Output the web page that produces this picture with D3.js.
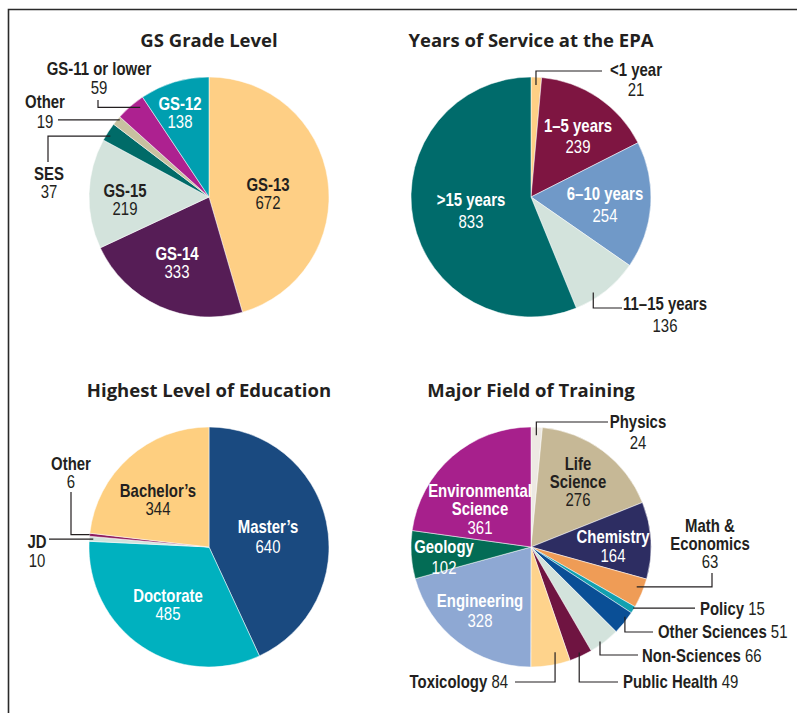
<!DOCTYPE html>
<html>
<head>
<meta charset="utf-8">
<title>EPA workforce profile</title>
<script src="https://cdn.jsdelivr.net/npm/d3@7"></script>
<style>
  body { margin: 0; background: #fff; }
  .title { font-family: "Open Sans", sans-serif; font-weight: bold; font-size: 18.5px; fill: #231f20; }
  .lbl { font-family: "Liberation Sans", Arial, sans-serif; font-size: 18px; }
  .leader { fill: none; stroke: #231f20; stroke-width: 1.2; }
</style>
</head>
<body>
<script>
// GS grade level
var gradeCats = ["GS-13", "GS-14", "GS-15", "SES", "Other", "GS-11 or lower", "GS-12"];
var gradeVals = [672, 333, 219, 37, 19, 59, 138];
var gradeColors = ["#fecf85", "#561d56", "#d3e3dc", "#006b68", "#c8c1a0", "#ad2190", "#009fb0"];

// years of service
var yearsCats = ["<1 year", "1–5 years", "6–10 years", "11–15 years", ">15 years"];
var yearsVals = [21, 239, 254, 136, 833];
var yearsColors = ["#fecf85", "#7e1541", "#7099c8", "#d3e3dc", "#006b6b"];

// highest education
var eduCats = ["Master’s", "Doctorate", "JD", "Other", "Bachelor’s"];
var eduVals = [640, 485, 10, 6, 344];
var eduColors = ["#1a4a80", "#00b1bf", "#d3e3dc", "#8e1b5e", "#fecf80"];

// major field of training
var fieldCats = ["Physics", "Life Science", "Chemistry", "Math & Economics", "Policy", "Other Sciences",
                 "Non-Sciences", "Public Health", "Toxicology", "Engineering", "Geology", "Environmental Science"];
var fieldVals = [24, 276, 164, 63, 15, 51, 66, 49, 84, 328, 102, 361];
var fieldColors = ["#ede9e3", "#c6b896", "#2d2d62", "#ef9c56", "#12a0b0", "#0a4f96",
                   "#d3e3dc", "#6f1441", "#fed38c", "#8ea8d3", "#036c55", "#a7208c"];

// label placement, relative to each pie centre
var gradeLayout = {
  "GS-13": {dx: 59, dy: -6, lh: 18},
  "GS-14": {dx: -32, dy: 63, lh: 18},
  "GS-15": {dx: -84, dy: 0, lh: 18},
  "GS-12": {dx: -29, dy: -87, lh: 18},
  "GS-11 or lower": {out: true, dx: -110, dy: -122, lh: 19, leader: {frac: 0.73, r: 113, type: "hv", ex: -111, ey: -97}},
  "Other": {out: true, dx: -164, dy: -89, lh: 20, leader: {frac: 0.76, r: 118, type: "h", ex: -151}},
  "SES": {out: true, dx: -160, dy: -17, lh: 18, leader: {frac: 0.37, r: 116, type: "hv", ex: -161, ey: -35}}
};
var yearsLayout = {
  "1–5 years": {dx: 47, dy: -65, lh: 21},
  "6–10 years": {dx: 74, dy: 3, lh: 22},
  ">15 years": {dx: -60, dy: 9, lh: 22},
  "<1 year": {out: true, dx: 105, dy: -121, lh: 20, leader: {frac: 0.5, r: 112, type: "vh", ex: 71, ey: -126}},
  "11–15 years": {out: true, dx: 134, dy: 113, lh: 22, leader: {frac: 0.67, r: 114, type: "vh", ex: 91, ey: 111}}
};
var eduLayout = {
  "Bachelor’s": {dx: -51, dy: -50, lh: 18},
  "Master’s": {dx: 59, dy: -14, lh: 20},
  "Doctorate": {dx: -41, dy: 55, lh: 18},
  "Other": {out: true, dx: -138, dy: -77, lh: 18, leader: {frac: 0.5, r: 120, type: "hv", ex: -138, ey: -55}},
  "JD": {out: true, dx: -172, dy: 1, lh: 19, leader: {frac: 0.5, r: 116, type: "h", ex: -160}}
};
var fieldLayout = {
  "Life Science": {dx: 47, dy: -77, lh: 18, wrap: ["Life", "Science"]},
  "Environmental Science": {dx: -51, dy: -50, lh: 18.5, wrap: ["Environmental", "Science"]},
  "Chemistry": {dx: 82, dy: -4, lh: 19},
  "Geology": {dx: -87, dy: 6, lh: 21},
  "Engineering": {dx: -51, dy: 60, lh: 20},
  "Physics": {out: true, dx: 107, dy: -119, lh: 21, leader: {frac: 0.5, r: 112, type: "vh", ex: 77, ey: -125}},
  "Math & Economics": {out: true, dx: 179, dy: -15, lh: 18, wrap: ["Math &", "Economics"], leader: {frac: 0.36, r: 113, type: "hv", ex: 181, ey: 26}},
  "Policy": {out: true, inline: true, anchor: "start", dx: 169, dy: 68, leader: {frac: 0.3, r: 119, type: "h", ex: 164}},
  "Other Sciences": {out: true, inline: true, anchor: "start", dx: 127, dy: 91, leader: {frac: 0.29, r: 117, type: "vh", ex: 122, ey: 85}},
  "Non-Sciences": {out: true, inline: true, anchor: "start", dx: 111, dy: 115, leader: {frac: 0.6, r: 117, type: "vh", ex: 107, ey: 108}},
  "Public Health": {out: true, inline: true, anchor: "start", dx: 92, dy: 141, leader: {frac: 0.5, r: 116, type: "vh", ex: 87, ey: 135}},
  "Toxicology": {out: true, inline: true, anchor: "end", dx: -23, dy: 141, leader: {frac: 0.32, r: 108, type: "vh", ex: -16, ey: 135}}
};

var width = 799, height = 713, R = 120;
var narrow = 0.83;   // squeeze Liberation Sans to a condensed face

var svg = d3.select("body").append("svg")
  .attr("width", width)
  .attr("height", height);

// frame
svg.append("path")
  .attr("d", "M8.5," + height + "V9.5H797")
  .attr("fill", "none")
  .attr("stroke", "#2a2a2a")
  .attr("stroke-width", 1.6);

function textColor(c) {
  return d3.lab(c).l > 72 ? "#231f20" : "#ffffff";
}

function drawPie(title, cats, vals, colors, layout, cx, cy) {
  var data = cats.map(function(c, i) { return {name: c, value: vals[i], color: colors[i]}; });
  var pie = d3.pie().sort(null).value(function(d) { return d.value; });
  var arc = d3.arc().innerRadius(0).outerRadius(R);
  var arcs = pie(data);

  var g = svg.append("g").attr("transform", "translate(" + cx + "," + cy + ")");

  svg.append("text")
    .attr("class", "title")
    .attr("x", cx)
    .attr("y", cy - 150)
    .attr("text-anchor", "middle")
    .text(title);

  g.selectAll("path.slice")
    .data(arcs)
    .enter()
    .append("path")
    .attr("class", "slice")
    .attr("d", arc)
    .attr("fill", function(d) { return d.data.color; })
    .attr("stroke", "#fff")
    .attr("stroke-width", 0.5);

  arcs.forEach(function(a) {
    var L = layout[a.data.name];
    if (!L) return;
    var fill = L.out ? "#231f20" : textColor(a.data.color);

    if (L.leader) {
      var ld = L.leader;
      var ang = a.startAngle + ld.frac * (a.endAngle - a.startAngle);
      var s = [Math.sin(ang) * ld.r, -Math.cos(ang) * ld.r];
      var pts;
      if (ld.type == "h") {
        pts = [s, [ld.ex, s[1]]];
      } else if (ld.type == "hv") {
        pts = [s, [ld.ex, s[1]], [ld.ex, ld.ey]];
      } else {
        pts = [s, [s[0], ld.ey], [ld.ex, ld.ey]];
      }
      g.append("path")
        .attr("class", "leader")
        .attr("d", d3.line()(pts));
    }

    var t = g.append("text")
      .attr("class", "lbl")
      .attr("transform", "translate(" + L.dx + "," + L.dy + ") scale(" + narrow + ",1)")
      .attr("fill", fill);

    if (L.inline) {
      t.attr("text-anchor", L.anchor);
      t.append("tspan").attr("font-weight", "bold").text(a.data.name);
      t.append("tspan").text(" " + a.data.value);
      return;
    }

    var lines = L.wrap || [a.data.name];
    t.attr("text-anchor", "middle");
    lines.forEach(function(line, i) {
      t.append("tspan")
        .attr("x", 0)
        .attr("y", i * L.lh)
        .attr("font-weight", "bold")
        .text(line);
    });
    t.append("tspan")
      .attr("x", 0)
      .attr("y", lines.length * L.lh)
      .text(a.data.value);
  });
}

drawPie("GS Grade Level", gradeCats, gradeVals, gradeColors, gradeLayout, 209, 197);
drawPie("Years of Service at the EPA", yearsCats, yearsVals, yearsColors, yearsLayout, 531, 197);
drawPie("Highest Level of Education", eduCats, eduVals, eduColors, eduLayout, 209, 547);
drawPie("Major Field of Training", fieldCats, fieldVals, fieldColors, fieldLayout, 531, 547);
</script>
</body>
</html>
